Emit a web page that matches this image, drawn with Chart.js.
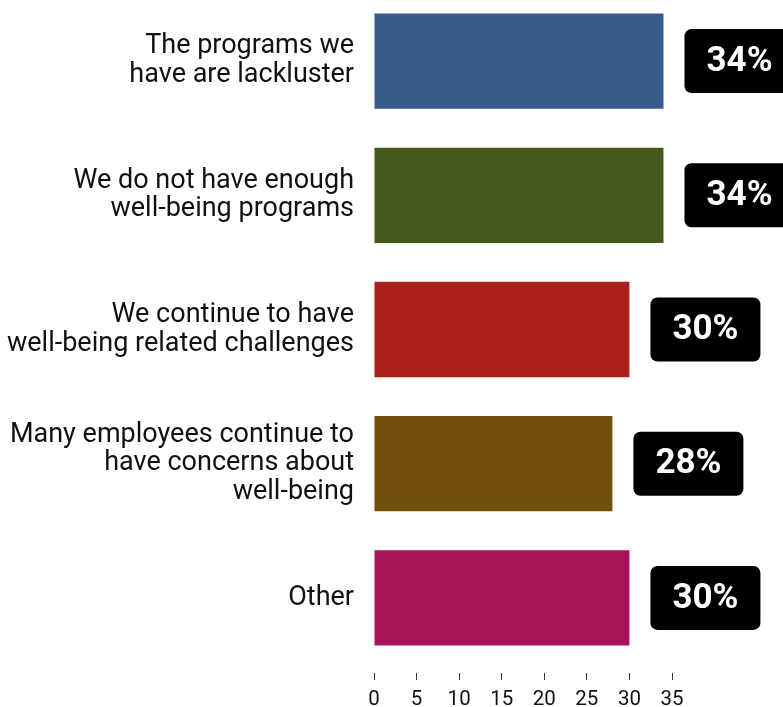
<!DOCTYPE html>
<html>
<head>
<meta charset="utf-8">
<script src="https://cdn.jsdelivr.net/npm/chart.js@4/dist/chart.umd.min.js"></script>
<style>
  html, body { margin: 0; padding: 0; background: #fff; overflow: hidden; }
  #wrap { position: relative; width: 783px; height: 713px; margin-top: -6px; }
</style>
</head>
<body>
<div id="wrap"><canvas id="reasonsChart"></canvas></div>
<script>
const categories = [
    ['The programs we', 'have are lackluster'],
    ['We do not have enough', 'well-being programs'],
    ['We continue to have', 'well-being related challenges'],
    ['Many employees continue to', 'have concerns about', 'well-being'],
    ['Other']
];
const percentages = [34, 34, 30, 28, 30];
const barColors = ['#375b8b', '#465a1d', '#aa2119', '#705008', '#a8145a'];
const tickValues = [0, 5, 10, 15, 20, 25, 30, 35];

// black rounded badge with the value, to the right of each bar
const valueBadges = {
    id: 'valueBadges',
    afterDatasetsDraw(chart) {
        const ctx = chart.ctx;
        const meta = chart.getDatasetMeta(0);
        ctx.save();
        meta.data.forEach((bar, i) => {
            const w = 110, h = 64;
            const x = bar.x + 21;
            const y = bar.y - h / 2;
            ctx.fillStyle = '#000';
            ctx.beginPath();
            ctx.roundRect(x, y, w, h, 7);
            ctx.fill();
            ctx.fillStyle = '#fff';
            ctx.font = 'bold 35px Roboto';
            ctx.textAlign = 'center';
            ctx.textBaseline = 'middle';
            ctx.fillText(percentages[i] + '%', x + w / 2, bar.y + 1);
        });
        ctx.restore();
    }
};

const ctx = document.getElementById('reasonsChart').getContext('2d');
new Chart(ctx, {
    type: 'bar',
    data: {
        labels: categories,
        datasets: [{
            data: percentages,
            backgroundColor: barColors,
            borderWidth: 0,
            categoryPercentage: 0.71,
            barPercentage: 1
        }]
    },
    options: {
        indexAxis: 'y',
        responsive: true,
        maintainAspectRatio: false,
        animation: false,
        layout: { padding: { top: 0, right: 111, bottom: 0, left: 0 } },
        plugins: {
            legend: { display: false },
            tooltip: { enabled: false }
        },
        scales: {
            x: {
                min: 0,
                max: 35,
                afterFit(scale) {
                    scale.height = 42;
                    scale.paddingLeft = 0;
                    scale.paddingRight = 0;
                },
                afterBuildTicks(scale) {
                    scale.ticks = tickValues.map(v => ({ value: v }));
                },
                border: { display: false },
                grid: {
                    drawOnChartArea: false,
                    drawTicks: true,
                    tickLength: 15,
                    tickBorderDash: [0, 8, 7, 40],
                    tickColor: '#333',
                    tickWidth: 1
                },
                ticks: {
                    padding: 8,
                    color: '#111',
                    font: { family: 'Roboto', size: 20.5 }
                }
            },
            y: {
                afterFit(scale) {
                    scale.width = 374;
                    scale.paddingTop = 0;
                    scale.paddingBottom = 0;
                },
                border: { display: false },
                grid: { display: false },
                ticks: {
                    padding: 12,
                    color: '#111',
                    font: { family: 'Roboto', size: 27, lineHeight: 1.07 }
                }
            }
        }
    },
    plugins: [valueBadges]
});
</script>
</body>
</html>
